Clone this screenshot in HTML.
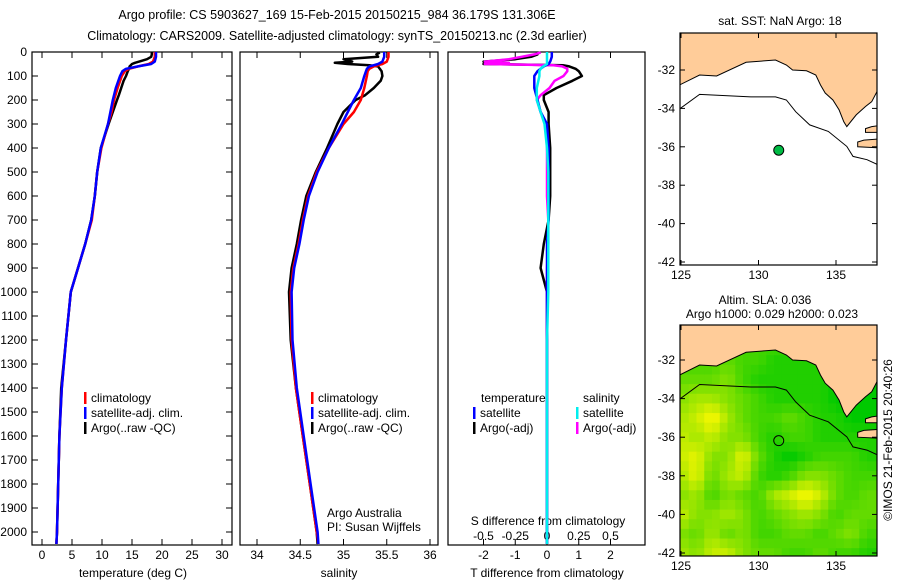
<!DOCTYPE html>
<html><head><meta charset="utf-8">
<style>
html,body{margin:0;padding:0;background:#fff;}
svg{display:block;font-family:"Liberation Sans",Arial,sans-serif;font-size:12px;}
</style></head>
<body>
<svg id="chart" width="900" height="580" viewBox="0 0 900 580">
<text x="337" y="19" text-anchor="middle" font-size="12.5">Argo profile: CS 5903627_169 15-Feb-2015 20150215_984 36.179S 131.306E</text>
<text x="337" y="40" text-anchor="middle" font-size="12.5">Climatology: CARS2009. Satellite-adjusted climatology: synTS_20150213.nc (2.3d earlier)</text>
</svg>
<script>
// ---------- data ----------
const climDepth=[0,20,40,50,60,70,80,100,150,200,250,300,400,500,600,700,800,900,1000,1200,1400,1600,1800,2000,2050];
const climT=[18.8,18.8,18.5,17.8,16,14.5,13.8,13.3,12.6,12,11.6,11,9.9,9.2,8.8,8.3,7.2,6,4.8,4,3.3,2.9,2.7,2.5,2.4];
const satT=[19,19,18.8,18.2,16,14,13.4,13,12.3,11.8,11.4,11,9.8,9.2,8.8,8.2,7.2,6,4.8,4,3.3,2.9,2.7,2.5,2.4];
const climS=[35.52,35.52,35.5,35.45,35.35,35.3,35.28,35.27,35.24,35.2,35.12,35.0,34.83,34.69,34.59,34.53,34.48,34.42,34.39,34.40,34.45,34.53,34.61,34.69,34.71];
const satS=[35.47,35.47,35.45,35.4,35.3,35.27,35.26,35.24,35.2,35.12,35.05,34.98,34.83,34.7,34.6,34.54,34.49,34.43,34.40,34.41,34.46,34.54,34.62,34.70,34.71];
const satTdiff=[0.15,0.15,0.1,0.05,-0.1,-0.2,-0.3,-0.4,-0.4,-0.3,-0.2,0,0.05,0.05,0.05,0.05,0,0,0,0,0,0,0,0,0];
const satSdiff=[0,0,0,0,-0.03,-0.05,-0.06,-0.06,-0.08,-0.08,-0.05,-0.02,0,0.01,0.01,0.01,0.01,0.01,0.01,0,0,0,0,0,0];
const argoDepth=[2,10,20,30,40,45,50,55,60,70,80,100,120,150,180,200,250,300,400,500,600,700,800,900,1000,1200,1400,1600,1800,2000,2050];
const argoT=[18.3,18.3,18.2,17.5,16.2,15.5,15,14.8,14.6,14.5,14.3,14,13.6,13.2,12.8,12.5,11.8,11.1,9.8,9.2,8.8,8.2,7.2,6.0,4.8,4.0,3.2,2.9,2.7,2.5,2.4];
const argoS=[35.42,35.38,35.4,35.0,35.1,34.9,35.05,35.3,35.4,35.42,35.44,35.45,35.43,35.35,35.25,35.14,35.0,34.93,34.81,34.68,34.57,34.51,34.46,34.40,34.37,34.39,34.45,34.53,34.61,34.69,34.70];
const argoTdiff=[-0.3,-0.3,-0.5,-1.0,-2.0,-1.5,-2.0,0.5,0.7,0.9,1.0,1.1,0.8,0.3,-0.1,-0.1,0.05,0.05,0.1,0.1,0.1,0.05,-0.1,-0.2,0,0,0,0,0,0,0];
const argoSdiff=[-0.05,-0.1,-0.2,-0.3,-0.49,-0.3,-0.49,0.05,0.12,0.16,0.16,0.13,0.06,0.02,-0.05,-0.08,-0.05,-0.01,0,0,0,0.01,0.01,0,0,0,0,0,0,0,0];
const depthTicks=[0,100,200,300,400,500,600,700,800,900,1000,1100,1200,1300,1400,1500,1600,1700,1800,1900,2000];
const tempTicks=[0,5,10,15,20,25,30];
const salTicks=[34,34.5,35,35.5,36];
const tdiffTicks=[-2,-1,0,1,2];
const sdiffTicks=[-0.5,-0.25,0,0.25,0.5];
const lonTicks=[125,130,135];
const latTicks=[-32,-34,-36,-38,-40,-42];
const coastLon=[124.9,126.2,127.3,129.2,131.1,131.8,132.2,133.1,133.7,134.0,134.3,134.8,135.2,135.5,135.7,136.3,136.9,137.3,137.7,137.7,124.9];
const coastLat=[-32.78,-32.26,-32.31,-31.6,-31.48,-31.74,-32,-32.04,-32.26,-32.78,-33.2,-33.56,-34.08,-34.7,-34.95,-34.34,-33.9,-33.65,-33.04,-30,-30];
const kiLon=[136.4,136.8,137.7,137.7,136.4];
const kiLat=[-35.75,-35.65,-35.6,-36.05,-36.0];
const ypLon=[136.9,137.3,137.7,137.7,136.9];
const ypLat=[-35.05,-34.95,-34.9,-35.25,-35.25];
const isoLon=[124.9,126.2,129.5,131.1,131.8,132.4,133.3,134.5,135.7,136.1,137,137.7];
const isoLat=[-34.03,-33.27,-33.4,-33.4,-33.56,-34.17,-34.86,-35.2,-35.98,-36.5,-36.67,-36.93];
const argoLon=131.306, argoLat=-36.179;
const slaLons=[125,126,127,128,129,130,131,132,133,134,135,136,137];
const slaLats=[-31,-32,-33,-34,-35,-36,-37,-38,-39,-40,-41,-42];
const slaGrid=[
[0.3,0.3,0.3,0.3,0.3,0.3,0.3,0.3,0.3,0.3,0.2,0.2,0.2],
[0.3,0.3,0.3,0.4,0.3,0.3,0.2,0.2,0.2,0.2,0.1,0.1,0.1],
[0.4,0.4,0.4,0.5,0.3,0.2,0.2,0.2,0.2,0.2,0.1,0.1,0.1],
[0.5,0.6,0.6,0.5,0.4,0.3,0.2,0.2,0.2,0.2,0.1,0.1,0.1],
[0.6,0.7,0.9,0.6,0.4,0.3,0.3,0.4,0.3,0.2,0.2,0.1,0.1],
[0.7,0.6,0.7,0.5,0.5,0.3,0.2,0.3,0.3,0.2,0.2,0.2,0.2],
[0.7,0.8,0.5,0.5,0.8,0.4,0.2,0.1,0.2,0.3,0.3,0.3,0.2],
[0.6,0.8,0.4,0.6,0.7,0.3,0.2,0.3,0.5,0.5,0.4,0.3,0.3],
[0.5,0.6,0.3,0.5,0.4,0.3,0.6,0.7,0.9,0.7,0.4,0.3,0.4],
[0.7,0.5,0.5,0.6,0.5,0.3,0.4,0.5,0.6,0.5,0.3,0.4,0.4],
[0.5,0.4,0.6,0.4,0.5,0.3,0.3,0.4,0.4,0.3,0.4,0.5,0.3],
[0.6,0.5,0.7,0.7,0.5,0.4,0.4,0.3,0.3,0.4,0.3,0.3,0.2]];

// ---------- helpers ----------
const svg=document.getElementById('chart');
const NS='http://www.w3.org/2000/svg';
function mk(tag,attrs,parent){const e=document.createElementNS(NS,tag);for(const k in attrs)e.setAttribute(k,attrs[k]);(parent||svg).appendChild(e);return e;}
function txt(x,y,s,anchor,parent){const t=mk('text',{x:x,y:y,'text-anchor':anchor||'start'},parent);t.textContent=s;return t;}
const TOP=52,BOT=545;
const yD=d=>TOP+d*0.24;
function linear(d0,d1,r0,r1){return v=>r0+(v-d0)*(r1-r0)/(d1-d0);}
const xT=linear(0,30,42,222);
const xS=linear(34,36,257,430);
const xTd=linear(0,2,547,610.5);
const xSd=linear(0,0.5,547,610.5);
function pathFrom(xs,ds,xf){return xs.map((v,i)=>(i?'L':'M')+xf(v).toFixed(1)+' '+yD(ds[i]).toFixed(1)).join(' ');}
function line(xs,ds,xf,color,name,w){const p=mk('path',{d:pathFrom(xs,ds,xf),fill:'none',stroke:color,'stroke-width':w||2.5,'stroke-linejoin':'round'});

return p;}
function panel(x0,x1,name){const r=mk('rect',{x:x0,y:TOP,width:x1-x0,height:BOT-TOP,fill:'none',stroke:'#000','stroke-width':1.2});

}
function xticks(ticks,xf,labelY,fmt){ticks.forEach(v=>{const x=xf(v);mk('line',{x1:x,x2:x,y1:TOP,y2:TOP+6,stroke:'#000'});mk('line',{x1:x,x2:x,y1:BOT,y2:BOT-6,stroke:'#000'});
const t=txt(x,labelY,fmt?fmt(v):String(v),'middle');

});}
function legend(x,y,items){items.forEach((it,i)=>{mk('rect',{x:x,y:y+i*15-10,width:2.5,height:12,fill:it[0]});const t=txt(x+7,y+i*15,it[1]);

});}

// ---------- panel 1: temperature ----------
panel(32,232,'temperature-panel');
depthTicks.forEach(d=>{const y=yD(d);mk('line',{x1:32,x2:38,y1:y,y2:y,stroke:'#000'});mk('line',{x1:232,x2:226,y1:y,y2:y,stroke:'#000'});
const t=txt(27,y+4,String(d),'end');

});
xticks(tempTicks,xT,559);
line(argoT,argoDepth,xT,'#000','argo-temperature-line');
line(climT,climDepth,xT,'#f00','climatology-temperature-line');
line(satT,climDepth,xT,'#00f','satellite-temperature-line');
legend(84,402,[['#f00','climatology'],['#00f','satellite-adj. clim.'],['#000','Argo(..raw -QC)']]);
let t1=txt(133,577,'temperature (deg C)','middle');

// ---------- panel 2: salinity ----------
panel(240,438,'salinity-panel');
xticks(salTicks,xS,559);
line(argoS,argoDepth,xS,'#000','argo-salinity-line');
line(climS,climDepth,xS,'#f00','climatology-salinity-line');
line(satS,climDepth,xS,'#00f','satellite-salinity-line');
legend(311,402,[['#f00','climatology'],['#00f','satellite-adj. clim.'],['#000','Argo(..raw -QC)']]);
txt(327,517,'Argo Australia');txt(327,531,'PI: Susan Wijffels');
let t2=txt(339,577,'salinity','middle');

// ---------- panel 3: differences ----------
panel(448,645,'difference-panel');
xticks(tdiffTicks,xTd,559);
sdiffTicks.forEach(v=>{const t=txt(xSd(v),540,String(v),'middle');});
txt(548,525,'S difference from climatology','middle');
line(argoTdiff,argoDepth,xTd,'#000','argo-temperature-diff-line');
line(argoSdiff,argoDepth,xSd,'#f0f','argo-salinity-diff-line');
line(satTdiff,climDepth,xTd,'#00f','satellite-temperature-diff-line');
line(satSdiff,climDepth,xSd,'#0ee','satellite-salinity-diff-line');
txt(481,402,'temperature');txt(583,402,'salinity');
legend(473,417,[['#00f','satellite'],['#000','Argo(-adj)']]);
legend(576,417,[['#0ee','satellite'],['#f0f','Argo(-adj)']]);
let t3=txt(547,577,'T difference from climatology','middle');

// ---------- maps ----------
function slaAt(lon,lat){
  const fj=Math.max(0,Math.min(slaLons.length-1.001,lon-slaLons[0]));
  const fi=Math.max(0,Math.min(slaLats.length-1.001,slaLats[0]-lat));
  const j=Math.floor(fj),i=Math.floor(fi),a=fj-j,b=fi-i;
  return slaGrid[i][j]*(1-a)*(1-b)+slaGrid[i][j+1]*a*(1-b)+slaGrid[i+1][j]*(1-a)*b+slaGrid[i+1][j+1]*a*b;
}
function map(top,bottom,lat32y,lat42y,name,withSLA){
  const L=680,R=877;
  const xL=linear(125,135,681,836);
  const yL=linear(-32,-42,lat32y,lat42y);
  const g=mk('g',{});
  
  
  const cid='clip'+top;
  const cp=mk('clipPath',{id:cid},g);mk('rect',{x:L,y:top,width:R-L,height:bottom-top},cp);
  const inner=mk('g',{'clip-path':'url(#'+cid+')'},g);
  if(withSLA){
    const step=0.5;
    const cw=xL(125+step)-xL(125),ch=yL(-32-step)-yL(-32);
    for(let lat=-30;lat>=-42.5;lat-=step){
      for(let lon=124.75;lon<=137.75;lon+=step){
        const v=slaAt(lon,lat);
        const r=Math.round(Math.max(0,v-0.1)*330),gg=Math.round(195+v*60);
        const c=mk('rect',{x:xL(lon)-cw/2,y:yL(lat)-ch/2,width:cw+0.6,height:ch+0.6,fill:'rgb('+Math.min(235,r)+','+Math.min(255,gg)+',0)'},inner);
        
        
      }
    }
  }
  const poly=(lo,la)=>lo.map((v,i)=>xL(v).toFixed(1)+','+yL(la[i]).toFixed(1)).join(' ');
  mk('polygon',{points:poly(coastLon,coastLat),fill:'#ffcc99',stroke:'#000','stroke-width':1},inner);
  mk('polygon',{points:poly(kiLon,kiLat),fill:'#ffcc99',stroke:'#000','stroke-width':1},inner);
  mk('polygon',{points:poly(ypLon,ypLat),fill:'#ffcc99',stroke:'#000','stroke-width':1},inner);
  mk('polyline',{points:poly(isoLon,isoLat),fill:'none',stroke:'#000','stroke-width':1},inner);
  const dot=mk('circle',{cx:xL(argoLon),cy:yL(argoLat),r:5,fill:withSLA?'none':'#00bb44',stroke:'#000','stroke-width':1},g);
  
  
  mk('rect',{x:L,y:top,width:R-L,height:bottom-top,fill:'none',stroke:'#000','stroke-width':1.2},g);
  lonTicks.forEach(v=>{const x=xL(v);mk('line',{x1:x,x2:x,y1:top,y2:top+5,stroke:'#000'},g);mk('line',{x1:x,x2:x,y1:bottom,y2:bottom-5,stroke:'#000'},g);
    const t=txt(x,bottom+14,String(v),'middle',g);});
  latTicks.forEach(v=>{const y=yL(v);mk('line',{x1:L,x2:L+5,y1:y,y2:y,stroke:'#000'},g);mk('line',{x1:R,x2:R-5,y1:y,y2:y,stroke:'#000'},g);
    const t=txt(L-5,y+4,String(v),'end',g);});
}
map(33,265,70,262,'sst-map',false);
map(325,556,360,553,'sla-map',true);
txt(780,25,'sat. SST: NaN Argo: 18','middle');
txt(765,304,'Altim. SLA: 0.036','middle');
txt(772,318,'Argo h1000: 0.029 h2000: 0.023','middle');
const cr=txt(0,0,'©IMOS 21-Feb-2015 20:40:26','middle');
cr.setAttribute('transform','translate(892,440) rotate(-90)');


</script>
</body></html>
